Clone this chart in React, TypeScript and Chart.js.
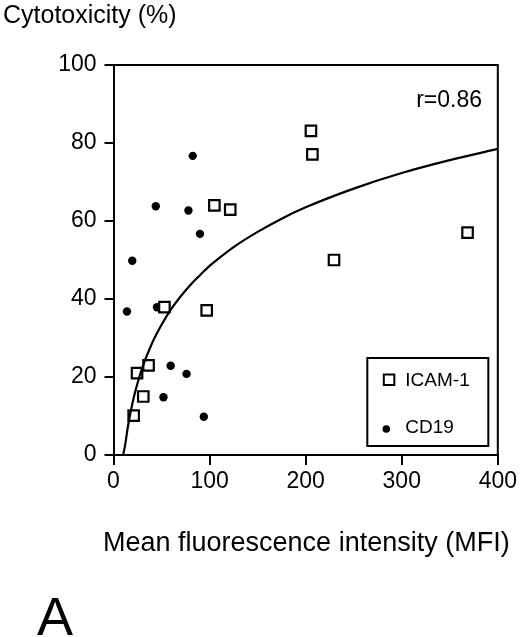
import React, { useEffect, useRef } from "react";
import { Chart, registerables } from "chart.js";

Chart.register(...registerables);

// ---- data ----
const seriesNames = ["ICAM-1", "CD19"];
const icamX = [21, 24.5, 31, 36.5, 53, 97, 105, 121.5, 205.5, 207, 229.5, 368.5];
const icamY = [10.1, 21, 15, 23, 37.9, 37.1, 64, 62.9, 83.1, 77.1, 50, 57];
const cd19X = [14, 19.5, 44, 45.3, 52, 59.5, 76, 78, 82.5, 90, 94];
const cd19Y = [36.8, 49.8, 63.8, 37.9, 14.8, 22.9, 20.8, 62.7, 76.7, 56.7, 9.8];
const curveX = [10, 12, 15, 20, 25, 30, 40, 50, 60, 70, 80, 90, 100, 110, 125, 150, 175, 200, 250, 300, 350, 400];
const curveY = [0, 2.4, 7.3, 13.6, 18.4, 22.4, 28.6, 33.4, 37.4, 40.7, 43.6, 46.1, 48.5, 50.5, 53.3, 57.2, 60.6, 63.5, 68.3, 72.3, 75.6, 78.5];
const xTicks = [0, 100, 200, 300, 400];
const yTicks = [0, 20, 40, 60, 80, 100];
const yTitle = "Cytotoxicity (%)";
const xTitle = "Mean fluorescence intensity (MFI)";
const corrLabel = "r=0.86";
const panelLabel = "A";

const FONT = "'Liberation Sans', Arial, Helvetica, sans-serif";

const decorPlugin = {
  id: "decor",
  afterDraw(chart: any) {
    const { ctx, chartArea: a } = chart;
    ctx.save();
    ctx.strokeStyle = "#000";
    ctx.fillStyle = "#000";
    ctx.lineWidth = 2;
    // top and right frame
    ctx.beginPath();
    ctx.moveTo(a.left - 1, a.top);
    ctx.lineTo(a.right, a.top);
    ctx.lineTo(a.right, a.bottom + 1);
    ctx.stroke();

    // legend box
    const bx = a.right - 130.5;
    const by = a.bottom - 97;
    const bw = 121;
    const bh = 88;
    ctx.strokeRect(bx, by, bw, bh);
    // square marker
    ctx.fillStyle = "#fff";
    ctx.fillRect(bx + 16.5, by + 16.5, 10.5, 10.5);
    ctx.strokeRect(bx + 16.5, by + 16.5, 10.5, 10.5);
    ctx.fillStyle = "#000";
    ctx.font = `19px ${FONT}`;
    ctx.textBaseline = "middle";
    ctx.textAlign = "left";
    ctx.fillText(seriesNames[0], bx + 38, by + 23);
    ctx.beginPath();
    ctx.arc(bx + 19, by + 71, 3.8, 0, Math.PI * 2);
    ctx.fill();
    ctx.fillText(seriesNames[1], bx + 38, by + 69.5);

    // texts
    ctx.textBaseline = "alphabetic";
    ctx.font = `23px ${FONT}`;
    ctx.textAlign = "right";
    ctx.fillText(corrLabel, 482, 106.5);
    ctx.textAlign = "left";
    ctx.font = `25px ${FONT}`;
    ctx.fillText(yTitle, 3, 23);
    ctx.font = `27px ${FONT}`;
    ctx.fillText(xTitle, 103, 551);
    ctx.font = `54px ${FONT}`;
    ctx.fillText(panelLabel, 37, 635);
    ctx.restore();
  },
};

export default function App() {
  const ref = useRef<HTMLCanvasElement | null>(null);

  useEffect(() => {
    if (!ref.current) return;
    const toPts = (xs: number[], ys: number[]) => xs.map((x, i) => ({ x, y: ys[i] }));
    const chart = new Chart(ref.current, {
      type: "scatter",
      data: {
        datasets: [
          {
            type: "line",
            label: "fit",
            data: toPts(curveX, curveY),
            borderColor: "#000",
            borderWidth: 2.2,
            pointRadius: 0,
            fill: false,
            cubicInterpolationMode: "monotone",
            order: 0,
          } as any,
          {
            label: seriesNames[0],
            data: toPts(icamX, icamY),
            pointStyle: "rect",
            pointRadius: 7.4,
            pointBorderWidth: 2.2,
            borderColor: "#000",
            backgroundColor: "#fff",
            order: 1,
          },
          {
            label: seriesNames[1],
            data: toPts(cd19X, cd19Y),
            pointStyle: "circle",
            pointRadius: 4.2,
            pointBorderWidth: 0,
            borderColor: "#000",
            backgroundColor: "#000",
            order: 2,
          },
        ],
      },
      options: {
        animation: false,
        responsive: false,
        devicePixelRatio: 1,
        layout: { padding: { top: 65, right: 19.5, left: 0, bottom: 0 } },
        plugins: { legend: { display: false }, tooltip: { enabled: false } },
        scales: {
          x: {
            type: "linear",
            min: 0,
            max: 400,
            afterFit: (s: any) => {
              s.height = 182;
            },
            afterBuildTicks: (s: any) => {
              s.ticks = xTicks.map((v) => ({ value: v }));
            },
            ticks: {
              color: "#000",
              font: { family: FONT, size: 23 },
              padding: 3,
              maxRotation: 0,
            },
            grid: {
              drawOnChartArea: false,
              drawTicks: true,
              tickLength: 10,
              tickColor: "#000",
              tickWidth: 2,
              lineWidth: 2,
              color: "#000",
            },
            border: { display: true, color: "#000", width: 2 },
          },
          y: {
            type: "linear",
            min: 0,
            max: 100,
            afterFit: (s: any) => {
              s.width = 113.5;
            },
            afterBuildTicks: (s: any) => {
              s.ticks = yTicks.map((v) => ({ value: v }));
            },
            ticks: {
              color: "#000",
              font: { family: FONT, size: 23 },
              padding: 8,
            },
            grid: {
              drawOnChartArea: false,
              drawTicks: true,
              tickLength: 9,
              tickColor: "#000",
              tickWidth: 2,
              lineWidth: 2,
              color: "#000",
            },
            border: { display: true, color: "#000", width: 2 },
          },
        },
      },
      plugins: [decorPlugin],
    });
    return () => chart.destroy();
  }, []);

  return (
    <div style={{ position: "absolute", left: 0, top: 0, width: 520, height: 637, background: "#fff" }}>
      <canvas ref={ref} width={520} height={637} style={{ display: "block", width: 520, height: 637 }} />
    </div>
  );
}
